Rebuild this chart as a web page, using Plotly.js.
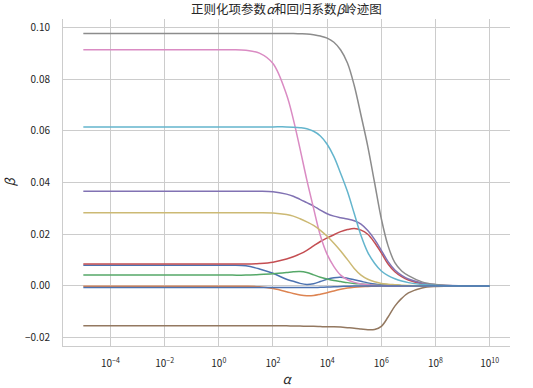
<!DOCTYPE html>
<html>
<head>
<meta charset="utf-8">
<script src="https://cdn.plot.ly/plotly-3.0.1.min.js"></script>
<style>html,body{margin:0;padding:0;background:#fff;}#chart{width:533px;height:388px;}</style>
</head>
<body>
<div id="chart"></div>
<script>
// Regularization parameter alpha (x values)
const alphas = [1e-5,1e-4,1e-3,1e-2,1e-1,1,3.162,10,31.62,100,316.2,562.3,1000,1778,3162,5623,1e4,17783,31623,56234,1e5,177828,316228,562341,1e6,1778279,3162278,5623413,1e7,31622777,1e8,316227766,1e9,1e10];

// Ridge coefficients (one array per feature)
const coef0 = [0.0080,0.0080,0.0080,0.0080,0.0080,0.0080,0.0080,0.0078,0.0066,0.0049,0.0026,0.0018,0.0010,0.0006,0.0009,0.0017,0.0026,0.0032,0.0034,0.0030,0.0024,0.0018,0.0012,0.0008,0.0005,0.0003,0.0002,0.0001,0,0,0,0,0,0];
const coef1 = [-0.0001,-0.0001,-0.0001,-0.0001,-0.0001,-0.0001,-0.0001,-0.0001,-0.0003,-0.0010,-0.0022,-0.0029,-0.0035,-0.0038,-0.0037,-0.0032,-0.0026,-0.0019,-0.0013,-0.0008,-0.0005,-0.0003,-0.0002,-0.0001,0,0,0,0,0,0,0,0,0,0];
const coef2 = [0.0042,0.0042,0.0042,0.0042,0.0042,0.0042,0.0042,0.0042,0.0044,0.0047,0.0052,0.0055,0.0056,0.0052,0.0043,0.0034,0.0027,0.0021,0.0017,0.0013,0.0010,0.0008,0.0006,0.0004,0.0003,0.0002,0.0002,0.0001,0.0001,0,0,0,0,0];
const coef3 = [0.0085,0.0085,0.0085,0.0085,0.0085,0.0085,0.0085,0.0085,0.0087,0.0092,0.0104,0.0113,0.0124,0.0138,0.0155,0.0172,0.0186,0.0198,0.0210,0.0218,0.0222,0.0216,0.0200,0.0168,0.0128,0.0085,0.0055,0.0036,0.0023,0.0009,0.0003,0.0001,0,0];
const coef4 = [0.0366,0.0366,0.0366,0.0366,0.0366,0.0366,0.0366,0.0366,0.0366,0.0364,0.0355,0.0347,0.0335,0.0322,0.0309,0.0293,0.0279,0.0270,0.0264,0.0259,0.0252,0.0239,0.0214,0.0180,0.0138,0.0094,0.0062,0.0041,0.0027,0.0012,0.0005,0.0002,0.0001,0];
const coef5 = [-0.0154,-0.0154,-0.0154,-0.0154,-0.0154,-0.0154,-0.0154,-0.0154,-0.0154,-0.0154,-0.0154,-0.0155,-0.0155,-0.0156,-0.0156,-0.0157,-0.0158,-0.0158,-0.0159,-0.0161,-0.0163,-0.0166,-0.0169,-0.0168,-0.0156,-0.0120,-0.0078,-0.0048,-0.0027,-0.0008,-0.0002,-0.0001,0,0];
const coef6 = [0.0913,0.0913,0.0913,0.0913,0.0913,0.0913,0.0913,0.0911,0.0900,0.0860,0.0740,0.0645,0.0530,0.0410,0.0300,0.0195,0.0122,0.0075,0.0042,0.0024,0.0014,0.0008,0.0005,0.0003,0.0002,0.0001,0,0,0,0,0,0,0,0];
const coef7 = [0.0976,0.0976,0.0976,0.0976,0.0976,0.0976,0.0976,0.0976,0.0976,0.0976,0.0976,0.0976,0.0975,0.0974,0.0971,0.0966,0.0958,0.0942,0.0912,0.0862,0.0775,0.0660,0.0540,0.0400,0.0260,0.0155,0.0090,0.0058,0.0040,0.0016,0.0006,0.0002,0.0001,0];
const coef8 = [0.0283,0.0283,0.0283,0.0283,0.0283,0.0283,0.0283,0.0283,0.0283,0.0282,0.0276,0.0270,0.0260,0.0248,0.0234,0.0215,0.0192,0.0165,0.0135,0.0102,0.0068,0.0042,0.0026,0.0016,0.0010,0.0007,0.0005,0.0003,0.0002,0.0001,0,0,0,0];
const coef9 = [0.0615,0.0615,0.0615,0.0615,0.0615,0.0615,0.0615,0.0615,0.0615,0.0615,0.0615,0.0614,0.0612,0.0608,0.0598,0.0580,0.0548,0.0500,0.0435,0.0365,0.0280,0.0195,0.0130,0.0088,0.0058,0.0040,0.0028,0.0019,0.0013,0.0006,0.0002,0.0001,0,0];
const coef10 = [-0.0006,-0.0006,-0.0006,-0.0006,-0.0006,-0.0006,-0.0006,-0.0006,-0.0006,-0.0006,-0.0006,-0.0006,-0.0006,-0.0006,-0.0006,-0.0005,-0.0004,-0.0003,-0.0002,-0.0001,0,0,0,0,0,0,0,0,0,0,0,0,0,0];

const series = [coef0,coef1,coef2,coef3,coef4,coef5,coef6,coef7,coef8,coef9,coef10];
const colors = ['#4c72b0','#dd8452','#55a868','#c44e52','#8172b3','#937860','#da8bc3','#8c8c8c','#ccb974','#64b5cd','#4c72b0'];

const xTickVals = [1e-4,1e-2,1,1e2,1e4,1e6,1e8,1e10];
const xTickText = ['10<sup>−4</sup>','10<sup>−2</sup>','10<sup>0</sup>','10<sup>2</sup>','10<sup>4</sup>','10<sup>6</sup>','10<sup>8</sup>','10<sup>10</sup>'];
const yTickVals = [-0.02,0,0.02,0.04,0.06,0.08,0.10];

const traces = series.map((ys,i)=>({
  x: alphas, y: ys, type:'scatter', mode:'lines',
  line:{color:colors[i], width:1.5, shape:'spline', smoothing:1},
  hoverinfo:'skip'
}));

const font = 'Noto Sans CJK SC, DejaVu Sans, sans-serif';
const layout = {
  width:533, height:388,
  margin:{l:63,r:23,t:19,b:42},
  paper_bgcolor:'#ffffff', plot_bgcolor:'#ffffff',
  showlegend:false,
  font:{family:font, size:10, color:'#262626'},
  title:{text:'正则化项参数<i>α</i>和回归系数<i>β</i>岭迹图', x:0.5, xref:'paper', xanchor:'center', y:1-10/388, yref:'container', yanchor:'middle', font:{family:font, size:12.5, color:'#262626'}},
  xaxis:{type:'log', range:[-5.75,10.75], tickmode:'array', tickvals:xTickVals, ticktext:xTickText,
    showgrid:true, gridcolor:'#cccccc', gridwidth:1, showline:true, linecolor:'#cccccc', linewidth:1,
    ticks:'', ticklabelstandoff:8, zeroline:false,
    tickfont:{family:font, size:10, color:'#262626'},
    title:{text:'<i>α</i>', font:{family:font, size:13, color:'#262626'}, standoff:7}},
  yaxis:{range:[-0.0232,0.1032], tickmode:'array', tickvals:yTickVals, tickformat:'.2f',
    showgrid:true, gridcolor:'#cccccc', gridwidth:1, showline:true, linecolor:'#cccccc', linewidth:1,
    ticks:'', ticklabelstandoff:10, zeroline:false,
    tickfont:{family:font, size:10, color:'#262626'},
    title:{text:'<i>β</i>', font:{family:font, size:13, color:'#262626'}, standoff:14}}
};

Plotly.newPlot('chart', traces, layout, {staticPlot:true, displayModeBar:false});
</script>
</body>
</html>
